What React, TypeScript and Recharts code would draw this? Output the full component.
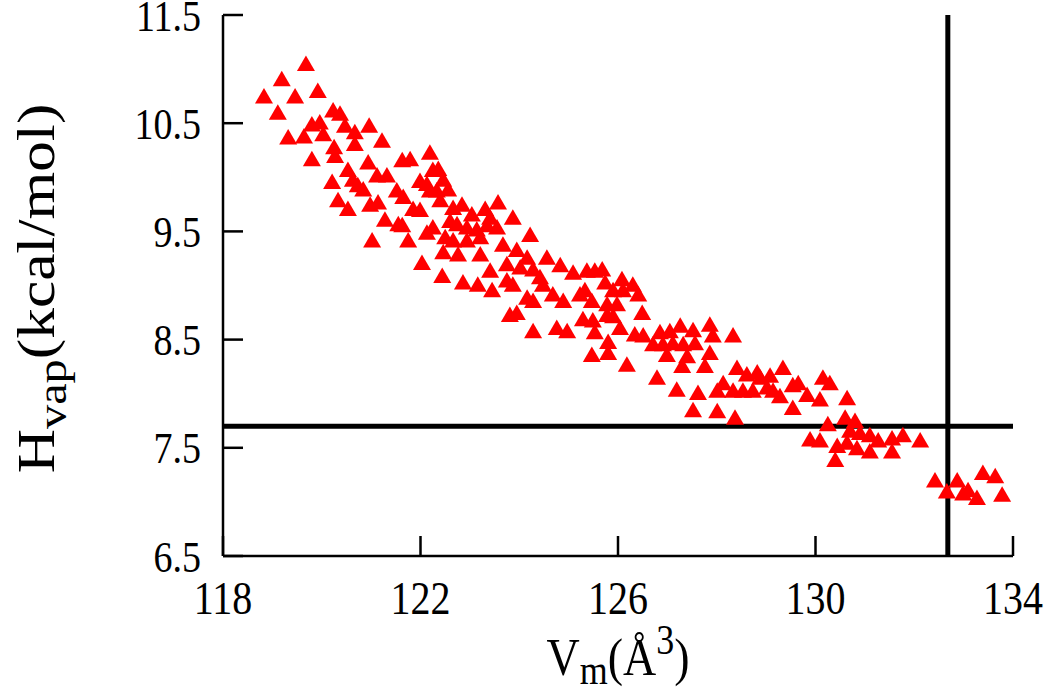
import { ScatterChart, Scatter, XAxis, YAxis, ReferenceLine } from 'recharts';

// molar volume (Å^3) and heat of vaporisation (kcal/mol) for each sample
const vmValues = [
  119.68, 119.19, 118.83, 119.46, 119.92, 119.11, 120.23, 120.37, 119.80, 119.96,
  119.32, 119.64, 120.03, 120.47, 120.67, 120.96, 121.22, 120.67, 120.25, 120.27,
  119.80, 122.19, 121.63, 121.79, 120.94, 120.53, 120.21, 120.63, 120.73, 121.12,
  121.32, 121.52, 120.84, 121.99, 122.13, 122.25, 122.33, 120.33, 120.53, 120.98,
  121.14, 121.65, 121.85, 121.99, 121.28, 121.55, 121.02, 121.75, 122.13, 122.25,
  122.36, 122.46, 122.19, 122.56, 122.40, 122.84, 122.66, 123.57, 123.31, 123.04,
  123.87, 124.22, 123.41, 122.60, 122.74, 122.94, 123.14, 123.35, 123.55, 121.63,
  122.50, 122.66, 122.94, 123.21, 123.67, 123.95, 124.16, 122.46, 122.76, 123.21,
  123.41, 124.56, 122.03, 123.75, 124.02, 124.28, 124.83, 125.09, 125.37, 125.53,
  122.44, 122.86, 123.16, 123.45, 123.75, 123.87, 124.42, 124.48, 124.16, 124.28,
  124.68, 124.89, 125.23, 125.47, 123.81, 123.95, 124.28, 124.76, 124.97, 125.29,
  125.49, 125.68, 126.08, 126.30, 125.74, 125.33, 125.90, 126.10, 126.41, 125.78,
  125.98, 126.49, 125.78, 125.90, 126.04, 126.34, 126.51, 125.53, 126.85, 127.05,
  127.26, 127.52, 127.86, 128.33, 127.92, 125.80, 126.71, 126.91, 127.11, 127.32,
  127.56, 125.47, 125.80, 126.99, 127.40, 127.86, 126.18, 127.30, 127.76, 126.79,
  127.19, 127.62, 128.41, 128.13, 128.01, 128.61, 128.82, 129.08, 128.33, 128.53,
  128.73, 129.02, 129.14, 127.52, 128.01, 128.37, 128.88, 129.34, 129.28, 129.54,
  129.65, 129.83, 130.09, 130.15, 130.29, 129.54, 130.64, 130.25, 130.60, 130.80,
  129.89, 130.09, 130.44, 130.64, 130.84, 130.70, 130.90, 131.10, 131.27, 130.40,
  131.10, 131.55, 131.55, 131.77, 132.12, 132.42, 132.66, 132.87, 132.99, 133.09,
  133.27, 133.39, 133.64, 133.78,
];

const hvapValues = [
  11.03, 10.89, 10.73, 10.73, 10.78, 10.58, 10.60, 10.57, 10.47, 10.49,
  10.35, 10.36, 10.38, 10.46, 10.40, 10.46, 10.32, 10.29, 10.26, 10.18,
  10.15, 10.21, 10.14, 10.15, 10.12, 10.05, 9.94, 9.96, 9.91, 10.00,
  10.00, 9.86, 9.87, 9.95, 9.92, 10.05, 9.86, 9.77, 9.69, 9.73,
  9.75, 9.80, 9.69, 9.68, 9.59, 9.55, 9.40, 9.40, 9.47, 9.52,
  10.06, 9.96, 9.86, 9.87, 9.77, 9.73, 9.70, 9.75, 9.69, 9.64,
  9.61, 9.45, 9.61, 9.58, 9.55, 9.52, 9.50, 9.54, 9.52, 9.54,
  9.43, 9.40, 9.40, 9.43, 9.36, 9.31, 9.24, 9.29, 9.27, 9.27,
  9.12, 9.24, 9.19, 9.18, 9.15, 9.13, 9.17, 9.10, 9.12, 9.12,
  9.07, 9.01, 8.99, 8.94, 9.03, 8.99, 9.06, 8.99, 8.87, 8.84,
  8.90, 8.84, 8.90, 8.84, 8.71, 8.73, 8.56, 8.59, 8.56, 8.67,
  8.66, 9.13, 9.04, 8.99, 9.01, 8.94, 8.94, 8.94, 8.90, 8.81,
  8.81, 8.73, 8.71, 8.70, 8.59, 8.53, 8.52, 8.55, 8.55, 8.56,
  8.61, 8.57, 8.62, 8.52, 8.52, 8.46, 8.44, 8.44, 8.45, 8.44,
  8.45, 8.34, 8.36, 8.34, 8.33, 8.36, 8.25, 8.24, 8.24, 8.13,
  8.02, 7.99, 8.22, 8.08, 8.01, 8.16, 8.18, 8.15, 8.01, 8.01,
  8.01, 8.04, 8.01, 7.83, 7.82, 7.76, 8.13, 8.22, 7.96, 8.06,
  8.08, 7.97, 7.93, 8.13, 8.08, 7.85, 7.94, 7.70, 7.76, 7.73,
  7.56, 7.55, 7.50, 7.53, 7.48, 7.64, 7.62, 7.60, 7.55, 7.37,
  7.45, 7.45, 7.57, 7.60, 7.55, 7.18, 7.08, 7.18, 7.06, 7.09,
  7.02, 7.25, 7.22, 7.05,
];

const xTicks = [118, 122, 126, 130, 134];
const yTicks = [6.5, 7.5, 8.5, 9.5, 10.5, 11.5];
const hvapRef = 7.7;
const vmRef = 132.68;

const points = vmValues.map((x, i) => ({ x, y: hvapValues[i] }));

const FONT = '"Liberation Serif", "Times New Roman", serif';
const frame = { stroke: '#000', strokeWidth: 2.5 };
// the original figure is a little stretched vertically
const STRETCH = 1.15;

const Triangle = ({ cx, cy }: any) => {
  const s = 18;
  const h = 15.5;
  return (
    <polygon
      points={`${cx},${cy - (2 * h) / 3} ${cx - s / 2},${cy + h / 3} ${cx + s / 2},${cy + h / 3}`}
      fill="#ff0000"
    />
  );
};

const BottomTick = ({ x, y, payload }: any) => (
  <text
    transform={`translate(${x},${y}) scale(1,${STRETCH})`}
    textAnchor="middle"
    dy="0.71em"
    fontFamily={FONT}
    fontSize={40}
    fill="#000"
  >
    {payload.value}
  </text>
);

const LeftTick = ({ x, y, payload }: any) => (
  <text
    transform={`translate(${x},${y}) scale(1,${STRETCH})`}
    textAnchor="end"
    dy="0.355em"
    fontFamily={FONT}
    fontSize={38}
    fill="#000"
  >
    {payload.value}
  </text>
);

const XTitle = ({ viewBox }: any) => {
  const cx = viewBox.x + viewBox.width / 2;
  const y = viewBox.y + 119;
  return (
    <text
      transform={`translate(${cx},${y}) scale(1,${STRETCH})`}
      textAnchor="middle"
      fontFamily={FONT}
      fontSize={46}
      fill="#000"
    >
      V
      <tspan dy={8} fontSize={36}>m</tspan>
      <tspan dy={-8}>(Å</tspan>
      <tspan dy={-18} fontSize={36}>3</tspan>
      <tspan dy={18}>)</tspan>
    </text>
  );
};

const YTitle = ({ viewBox }: any) => {
  const cy = viewBox.y + viewBox.height / 2 + 3;
  const x = 54;
  return (
    <text
      transform={`translate(${x},${cy}) rotate(-90) scale(1.18,1)`}
      textAnchor="middle"
      fontFamily={FONT}
      fontSize={52}
      fill="#000"
    >
      H
      <tspan dy={12} fontSize={41}>vap</tspan>
      <tspan dy={-12}>(kcal/mol)</tspan>
    </text>
  );
};

export default function App() {
  return (
    <div style={{ position: 'absolute', left: 0, top: 0, width: 1050, height: 696, background: '#fff' }}>
      <ScatterChart width={1050} height={696} margin={{ top: 15, right: 37, bottom: 0, left: 0 }}>
        <XAxis
          xAxisId={0}
          type="number"
          dataKey="x"
          domain={[118, 134]}
          ticks={xTicks}
          interval={0}
          allowDataOverflow
          height={140}
          tickSize={-20}
          tickMargin={45}
          tick={<BottomTick />}
          axisLine={frame}
          tickLine={frame}
          label={{ content: (p: any) => <XTitle viewBox={p.viewBox} /> }}
        />
        <XAxis
          xAxisId="top"
          orientation="top"
          type="number"
          domain={[118, 134]}
          ticks={xTicks}
          interval={0}
          allowDataOverflow
          height={0}
          tickSize={-20}
          tickFormatter={() => ''}
          axisLine={frame}
          tickLine={frame}
        />
        <YAxis
          yAxisId={0}
          type="number"
          dataKey="y"
          domain={[6.5, 11.5]}
          ticks={yTicks}
          interval={0}
          allowDataOverflow
          width={223}
          tickSize={-20}
          tickMargin={42}
          tick={<LeftTick />}
          axisLine={frame}
          tickLine={frame}
          label={{ content: (p: any) => <YTitle viewBox={p.viewBox} /> }}
        />
        <YAxis
          yAxisId="right"
          orientation="right"
          type="number"
          domain={[6.5, 11.5]}
          ticks={yTicks}
          interval={0}
          allowDataOverflow
          width={0}
          tickSize={-20}
          tickFormatter={() => ''}
          axisLine={frame}
          tickLine={frame}
        />
        <Scatter data={points} shape={<Triangle />} isAnimationActive={false} />
        <ReferenceLine y={hvapRef} stroke="#000" strokeWidth={5} />
        <ReferenceLine x={vmRef} stroke="#000" strokeWidth={5} />
      </ScatterChart>
    </div>
  );
}
